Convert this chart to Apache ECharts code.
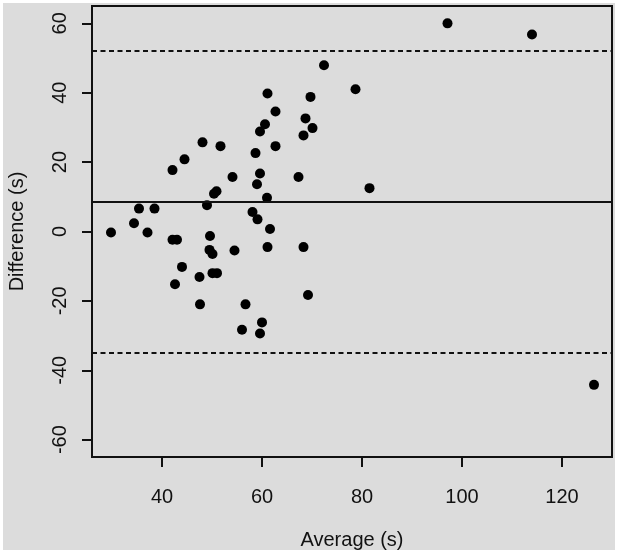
<!DOCTYPE html>
<html>
<head>
<meta charset="utf-8">
<script src="https://cdn.jsdelivr.net/npm/echarts@6/dist/echarts.min.js"></script>
<style>
  html, body { margin: 0; padding: 0; background: #fff; }
  #wrap { position: relative; width: 621px; height: 554px; background: #fff; }
  #main { position: absolute; left: 3px; top: 3px; width: 612px; height: 547px; }
</style>
</head>
<body>
<div id="wrap"><div id="main"></div></div>
<script>
// Bland-Altman: average vs difference (seconds)
const avgValues = [
  97.1, 114.0, 126.4, 72.4, 78.7, 81.5, 61.1, 69.7, 62.7, 68.7,
  60.6, 70.1, 59.6, 68.3, 48.1, 51.7, 62.7, 58.7, 44.5, 42.1,
  59.6, 54.1, 67.3, 59.0, 50.9, 50.4, 61.0, 49.0, 35.4, 38.5,
  58.1, 59.1, 34.4, 61.6, 29.8, 37.1, 42.1, 43.0, 49.6, 49.5,
  50.1, 54.5, 61.1, 68.3, 44.0, 50.1, 51.0, 47.5, 42.6, 69.2,
  47.6, 56.7, 60.0, 56.0, 59.6
]
const diffValues = [
  60, 56.8, -44.2, 47.9, 41, 12.5, 39.8, 38.8, 34.6, 32.6,
  30.9, 29.8, 28.8, 27.7, 25.7, 24.6, 24.6, 22.6, 20.8, 17.7,
  16.7, 15.7, 15.7, 13.6, 11.6, 10.9, 9.7, 7.6, 6.6, 6.6,
  5.6, 3.5, 2.4, 0.7, -0.3, -0.3, -2.4, -2.4, -1.3, -5.3,
  -6.5, -5.5, -4.5, -4.5, -10.2, -12.0, -12.0, -13.1, -15.2, -18.3,
  -21.0, -21.0, -26.2, -28.3, -29.4
]
const meanDiff = 8.6
const upperLoA = 52
const lowerLoA = -35
const xTicks = [40, 60, 80, 100, 120]
const yTicks = [-60, -40, -20, 0, 20, 40, 60]

const points = avgValues.map((a, i) => [a, diffValues[i]])
const font = 'Liberation Sans, Arial, sans-serif'

let myChart = echarts.init(document.getElementById('main'))
const option = {
  backgroundColor: '#dcdcdc',
  animation: false,
  grid: {
    left: 89,
    top: 3,
    width: 520,
    height: 451,
    outerBoundsMode: 'none',
    containLabel: false,
    show: true,
    backgroundColor: '#dcdcdc',
    borderColor: '#111',
    borderWidth: 2
  },
  xAxis: {
    type: 'value',
    min: 26,
    max: 130,
    name: 'Average (s)',
    nameLocation: 'middle',
    nameGap: 73,
    nameTextStyle: { fontFamily: font, fontSize: 20, color: '#111' },
    axisLine: { show: false, onZero: false },
    splitLine: { show: false },
    axisTick: {
      show: true,
      length: 10,
      customValues: xTicks,
      lineStyle: { color: '#111', width: 2 }
    },
    axisLabel: {
      customValues: xTicks,
      margin: 30,
      fontFamily: font,
      fontSize: 20,
      color: '#111'
    }
  },
  yAxis: {
    type: 'value',
    min: -65,
    max: 65,
    name: 'Difference (s)',
    nameLocation: 'middle',
    nameRotate: 90,
    nameGap: 65,
    nameTextStyle: { fontFamily: font, fontSize: 20, color: '#111' },
    axisLine: { show: false, onZero: false },
    splitLine: { show: false },
    axisTick: {
      show: true,
      length: 10,
      customValues: yTicks,
      lineStyle: { color: '#111', width: 2 }
    },
    axisLabel: {
      customValues: yTicks,
      rotate: 90,
      margin: 22,
      fontFamily: font,
      fontSize: 20,
      color: '#111'
    }
  },
  series: [
    {
      type: 'scatter',
      data: points,
      symbol: 'circle',
      symbolSize: 10,
      itemStyle: { color: '#000', opacity: 1 },
      markLine: {
        silent: true,
        symbol: 'none',
        label: { show: false },
        data: [
          { yAxis: meanDiff, lineStyle: { type: 'solid', color: '#111', width: 2 } },
          { yAxis: upperLoA, lineStyle: { type: [5, 3.5], color: '#111', width: 2 } },
          { yAxis: lowerLoA, lineStyle: { type: [5, 3.5], color: '#111', width: 2 } }
        ]
      }
    }
  ]
}

myChart.setOption(option)
</script>
</body>
</html>
